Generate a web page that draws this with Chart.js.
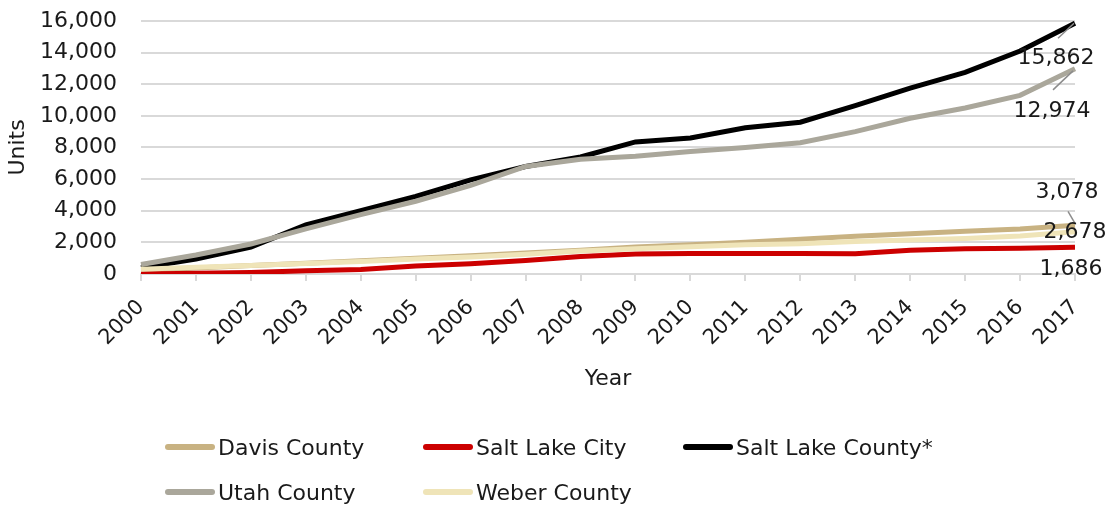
<!DOCTYPE html>
<html>
<head>
<meta charset="utf-8">
<script src="https://cdn.jsdelivr.net/npm/chart.js@4/dist/chart.umd.min.js"></script>
<style>
  html, body { margin: 0; padding: 0; background: #fff; }
  #wrap { position: relative; width: 1108px; height: 505px; }
  #chart { position: absolute; left: 0; top: 0; }
  .lg { position: absolute; font-family: "DejaVu Sans", sans-serif; font-size: 22px; color: #1a1a1a; display: flex; align-items: center; white-space: nowrap; }
  .sw { width: 50px; height: 6px; border-radius: 3px; margin-right: 3px; }
</style>
</head>
<body>
<div id="wrap">
  <canvas id="chart" width="1108" height="505"></canvas>
  <div id="legend"></div>
</div>
<script>
const years = ["2000","2001","2002","2003","2004","2005","2006","2007","2008","2009","2010","2011","2012","2013","2014","2015","2016","2017"];
const seriesNames = ["Davis County", "Salt Lake City", "Salt Lake County*", "Utah County", "Weber County"];
const davisCounty    = [200, 380, 530, 680, 830, 1000, 1150, 1320, 1500, 1700, 1850, 2000, 2200, 2380, 2550, 2700, 2850, 3078];
const saltLakeCity   = [0, 50, 100, 200, 280, 500, 650, 850, 1100, 1270, 1290, 1290, 1290, 1280, 1500, 1600, 1630, 1686];
const saltLakeCounty = [400, 950, 1700, 3100, 4000, 4900, 5950, 6800, 7400, 8350, 8600, 9250, 9600, 10650, 11750, 12750, 14100, 15862];
const utahCounty     = [600, 1200, 1900, 2850, 3750, 4600, 5600, 6800, 7250, 7450, 7750, 8000, 8300, 9000, 9850, 10500, 11300, 12974];
const weberCounty    = [300, 420, 540, 660, 790, 950, 1080, 1250, 1450, 1600, 1720, 1850, 1920, 2050, 2150, 2250, 2400, 2678];
const yTicks = [0, 2000, 4000, 6000, 8000, 10000, 12000, 14000, 16000];
const endLabels = ["3,078", "1,686", "15,862", "12,974", "2,678"];

const colors = ["#c8b282", "#cc0000", "#000000", "#aaa79b", "#efe4b8"];
const allSeries = [davisCounty, saltLakeCity, saltLakeCounty, utahCounty, weberCounty];
// label offsets relative to last point: [dx, dy, leader from (x1,y1) to (x2,y2)]
const labelStyle = [
  { dx: -8, dy: -33, leader: [-7, -14, 0, -2] },
  { dx: -4, dy: 22, leader: null },
  { dx: -19, dy: 35, leader: [-1, 0, -17, 15] },
  { dx: -23, dy: 42, leader: [-2, 2, -22, 21] },
  { dx: 0, dy: 1, leader: null }
];
const FONT = "DejaVu Sans";

const endLabelPlugin = {
  id: 'endLabels',
  afterDatasetsDraw(chart) {
    const ctx = chart.ctx;
    ctx.save();
    chart.data.datasets.forEach((ds, i) => {
      const meta = chart.getDatasetMeta(i);
      const p = meta.data[meta.data.length - 1];
      const st = labelStyle[i];
      if (st.leader) {
        ctx.strokeStyle = "#8c8c8c";
        ctx.lineWidth = 1.5;
        ctx.beginPath();
        ctx.moveTo(p.x + st.leader[0], p.y + st.leader[1]);
        ctx.lineTo(p.x + st.leader[2], p.y + st.leader[3]);
        ctx.stroke();
      }
      ctx.fillStyle = "#1a1a1a";
      ctx.font = "22px '" + FONT + "'";
      ctx.textAlign = "center";
      ctx.textBaseline = "middle";
      ctx.fillText(endLabels[i], p.x + st.dx, p.y + st.dy);
    });
    ctx.restore();
  }
};

const datasets = seriesNames.map((name, i) => ({
  label: name,
  data: allSeries[i],
  borderColor: colors[i],
  backgroundColor: colors[i],
  borderWidth: 5,
  pointRadius: 0,
  tension: 0,
  fill: false,
  order: 4 - i
}));

new Chart(document.getElementById('chart'), {
  type: 'line',
  data: { labels: years, datasets },
  options: {
    responsive: false,
    animation: false,
    layout: { padding: { left: 4, right: 33, top: 21, bottom: 113 } },
    plugins: { legend: { display: false }, tooltip: { enabled: false } },
    scales: {
      x: {
        offset: false,
        grid: { display: true, drawOnChartArea: false, drawTicks: true, tickLength: 7, color: "#d9d9d9", lineWidth: 2 },
        border: { display: true, color: "#d9d9d9", width: 2 },
        ticks: { color: "#1a1a1a", font: { family: FONT, size: 21 }, minRotation: 45, maxRotation: 45, padding: 14, autoSkip: false },
        title: { display: true, text: "Year", color: "#1a1a1a", font: { family: FONT, size: 22 }, padding: { top: 1, bottom: 0 } }
      },
      y: {
        min: 0, max: 16000,
        afterBuildTicks(axis) { axis.ticks = yTicks.map(v => ({ value: v })); },
        afterFit(axis) { axis.width = 137; axis.paddingTop = 0; axis.paddingBottom = 0; },
        grid: { color: "#d9d9d9", lineWidth: 2, drawTicks: false },
        border: { display: false },
        ticks: { color: "#1a1a1a", font: { family: FONT, size: 22 }, padding: 24, autoSkip: false },
        title: { display: true, text: "Units", color: "#1a1a1a", font: { family: FONT, size: 22 }, padding: { top: 1, bottom: 8 } }
      }
    }
  },
  plugins: [endLabelPlugin]
});

// HTML legend
const legendPos = [[165, 447], [423, 447], [683, 447], [165, 492], [423, 492]];
const lg = document.getElementById('legend');
seriesNames.forEach((name, i) => {
  const d = document.createElement('div');
  d.className = 'lg';
  d.style.left = legendPos[i][0] + 'px';
  d.style.top = (legendPos[i][1] - 14) + 'px';
  d.style.height = '28px';
  const s = document.createElement('span');
  s.className = 'sw';
  s.style.background = colors[i];
  const t = document.createElement('span');
  t.textContent = name;
  d.appendChild(s); d.appendChild(t);
  lg.appendChild(d);
});
</script>
</body>
</html>
